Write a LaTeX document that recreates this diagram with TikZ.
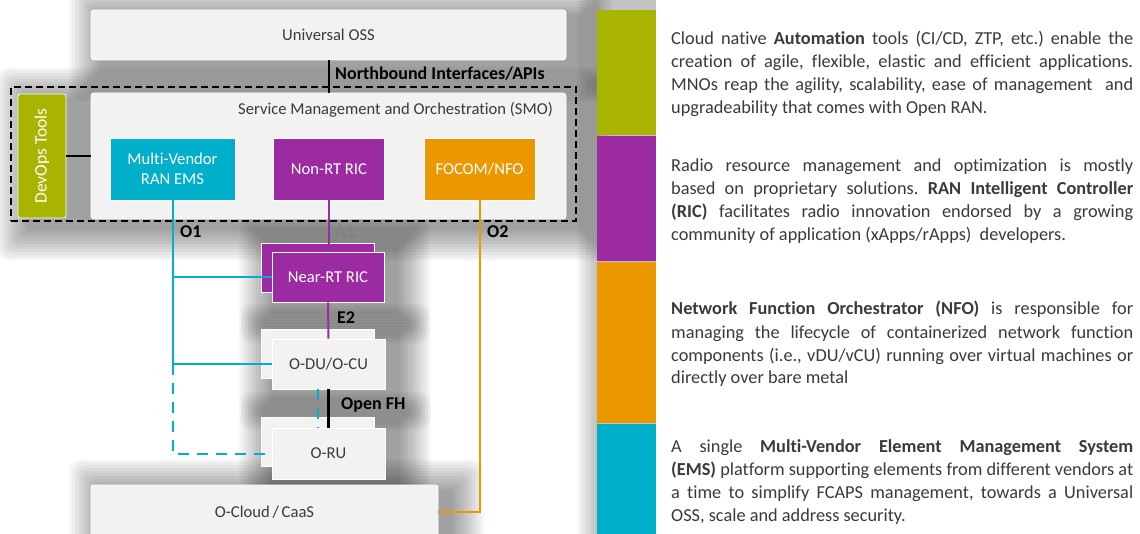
\documentclass[tikz,border=0pt]{standalone}
\usepackage{fontspec}
\usepackage{graphicx}
\setmainfont{Carlito}[Ligatures=NoCommon]
\usetikzlibrary{calc}
\frenchspacing

\definecolor{olive}{HTML}{A8B400}
\definecolor{aub}{HTML}{9C2AA0}
\definecolor{amber}{HTML}{EB9700}
\definecolor{teal}{HTML}{00B0CA}
\definecolor{panel}{HTML}{F2F2F2}
\definecolor{ink}{HTML}{3A3A3A}

% soft drop shadow under a box given by its corners (x1,y1) (x2,y2)
\newcommand\softshade[4]{%
  \foreach \k in {1,...,12}{%
    \fill[black, opacity=0.034, rounded corners=\k pt]
      (#1+12-\k*2.8, #2+8-\k*2.8) rectangle (#3+12+\k*2.8, #4+8+\k*2.8);
  }}

% a justified line of the descriptions (squeezed if it is too long)
\newlength\parawidth
\setlength\parawidth{462pt}
\newcommand\fitline[1]{%
  \setbox0\hbox{#1}%
  \ifdim\wd0>\parawidth
    \pgfmathsetmacro\fitratio{\parawidth/\wd0}%
    \scalebox{\fitratio}[1]{\box0}%
  \else
    \hbox to \parawidth{#1}%
  \fi}
\newcommand\jline[3]{\node[para] (#1) at (671,#2) {\fitline{#3}};}
\newcommand\lline[3]{\node[para] (#1) at (671,#2) {#3};}

\tikzset{
  boxfont/.style={font=\fontsize{16.6}{20}\selectfont},
  panelbox/.style={boxfont, fill=panel, draw=white, line width=0.8pt,
    rounded corners=3pt, text=ink, inner sep=0pt},
  colbox/.style={boxfont, draw=white, line width=0.8pt, text=white,
    align=center, inner sep=0pt},
  stackback/.style={fill=#1, draw=white, line width=0.8pt, inner sep=0pt,
    minimum width=113pt, minimum height=49pt},
  linklabel/.style={font=\bfseries\fontsize{18}{20}\selectfont,
    inner sep=0pt, anchor=west, text=black},
  para/.style={font=\fontsize{18.3}{22}\selectfont, text=ink, inner sep=0pt,
    anchor=base west},
  bar/.style={inner sep=0pt, anchor=north west, minimum width=59pt},
  wire/.style={line width=2pt},
  dashwire/.style={line width=2pt, dash pattern=on 11pt off 8pt},
}

\begin{document}
\begin{tikzpicture}[x=1pt, y=-1pt]
\useasboundingbox (0,0) rectangle (1140,534);
\fill[white] (0,0) rectangle (1140,534);

% shadows
\softshade{91}{10}{566}{60}
\softshade{18}{93}{566}{219}
\softshade{261}{243}{384}{302}
\softshade{261}{329}{385}{389}
\softshade{261}{417}{385}{479}
\softshade{91}{485}{438}{540}
\foreach \k in {1,...,8}{
  \fill[black, opacity=0.03] (597-\k*2.5, -5) rectangle (656, 540);
}

% top management layer
\node[panelbox, minimum width=475pt, minimum height=50pt] (oss) at (328.5,35) {Universal OSS};
\node[draw=black, dash pattern=on 7pt off 4pt, line width=1.2pt, inner sep=0pt,
  minimum width=565pt, minimum height=134pt] (frame) at (293.5,154) {};
\node[panelbox, minimum width=475pt, minimum height=126pt] (smo) at (328.5,156) {};
\node[boxfont, text=ink, anchor=east, inner sep=0pt] (smolabel) at (553,110)
  {Service Management and Orchestration (SMO)};
\node[colbox, fill=olive, rotate=90, minimum width=124pt, minimum height=48pt,
  rounded corners=2pt, font=\fontsize{17.5}{20}\selectfont] (devops) at (42,156) {DevOps Tools};

\node[colbox, fill=teal, minimum width=125pt, minimum height=62pt] (ems) at (172.5,169)
  {Multi-Vendor\\RAN EMS};
\node[colbox, fill=aub, minimum width=111pt, minimum height=62pt] (nonrt) at (329,169)
  {Non-RT RIC};
\node[colbox, fill=amber, minimum width=111pt, minimum height=62pt] (focom) at (479.5,169)
  {FOCOM/NFO};

% RAN side
\node[stackback=aub] (nrtback) at (317.5,267.5) {};
\node[colbox, fill=aub, minimum width=112pt, minimum height=50pt] (nrt) at (328,277) {Near-RT RIC};
\node[stackback=panel] (oduback) at (317.5,353.5) {};
\node[panelbox, rounded corners=0pt, minimum width=113pt, minimum height=50pt] (odu) at (328.5,364) {O-DU/O-CU};
\node[stackback=panel] (oruback) at (317.5,441.5) {};
\node[panelbox, rounded corners=0pt, minimum width=113pt, minimum height=51pt] (oru) at (328.5,453.5) {O-RU};
\node[panelbox, rounded corners=2pt, minimum width=347pt, minimum height=54pt] (ocloud) at (264.5,512) {O-Cloud\,/\,CaaS};

% interfaces
\draw[wire, black] (oss.south) -- (oss.south |- smo.north);
\draw[wire, black] (devops.south) -- (smo.west);
\draw[wire, teal] (ems.south) |- (odu.west);
\draw[wire, teal] (ems.south |- nrt.west) -- (nrt.west);
\draw[dashwire, teal] (ems.south |- odu.west) |- (oru.west);
\draw[dashwire, teal] ($(odu.south)+(-11,0)$) -- ($(oru.north)+(-11,0)$);
\draw[wire, aub] (nonrt.south) -- (nonrt.south |- nrt.north);
\draw[wire, aub] (nrt.south) -- (odu.north);
\draw[wire, black, line width=2.3pt] (odu.south) -- (oru.north);
\draw[wire, amber] (focom.south) |- (ocloud.east);

\node[linklabel] (nbi) at (335,74) {Northbound Interfaces/APIs};
\node[linklabel] (o1) at (180,232) {O1};
\node[linklabel, text=black!50] (a1) at (335,232) {A1};
\node[linklabel] (o2) at (487,232) {O2};
\node[linklabel] (e2) at (337,318) {E2};
\node[linklabel] (ofh) at (341,405) {Open FH};

% colour key
\node[bar, fill=olive, minimum height=125pt] (bar1) at (597,10) {};
\node[bar, fill=aub, minimum height=125pt] (bar2) at (597,136) {};
\node[bar, fill=amber, minimum height=161pt] (bar3) at (597,262) {};
\node[bar, fill=teal, minimum height=112pt] (bar4) at (597,424) {};

% descriptions
\jline{p1a}{45}{Cloud native \textbf{Automation} tools (CI/CD, ZTP, etc.) enable the}
\jline{p1b}{68}{creation of agile, flexible, elastic and efficient applications.}
\jline{p1c}{91}{MNOs reap the agility, scalability, ease of management \ and}
\lline{p1d}{114}{upgradeability that comes with Open RAN.}

\jline{p2a}{172}{Radio resource management and optimization is mostly}
\jline{p2b}{195}{based on proprietary solutions. \textbf{RAN Intelligent Controller}}
\jline{p2c}{218}{\textbf{(RIC)} facilitates radio innovation endorsed by a growing}
\lline{p2d}{241}{community of application (xApps/rApps) \ developers.}

\jline{p3a}{315}{\textbf{Network Function Orchestrator (NFO)} is responsible for}
\jline{p3b}{338}{managing the lifecycle of containerized network function}
\jline{p3c}{361}{components (i.e., vDU/vCU) running over virtual machines or}
\lline{p3d}{384}{directly over bare metal}

\jline{p4a}{452}{A single \textbf{Multi-Vendor Element Management System}}
\jline{p4b}{475}{\textbf{(EMS)} platform supporting elements from different vendors at}
\jline{p4c}{498}{a time to simplify FCAPS management, towards a Universal}
\lline{p4d}{521}{OSS, scale and address security.}
\end{tikzpicture}
\end{document}
